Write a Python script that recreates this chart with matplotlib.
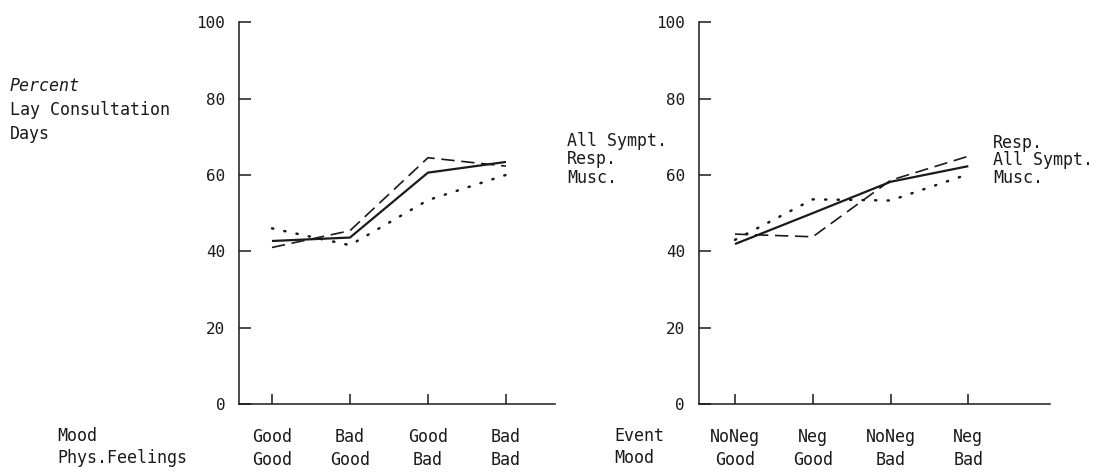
import matplotlib
matplotlib.use("Agg")
import matplotlib.pyplot as plt

# left panel: Mood x Phys.Feelings
left_mood = ["Good", "Bad", "Good", "Bad"]
left_phys = ["Good", "Good", "Bad", "Bad"]
left_all = [42.7, 43.6, 60.6, 63.4]
left_resp = [41.0, 45.4, 64.5, 62.3]
left_musc = [46.0, 41.6, 53.4, 60.0]

# right panel: Event x Mood
right_event = ["NoNeg", "Neg", "NoNeg", "Neg"]
right_mood = ["Good", "Good", "Bad", "Bad"]
right_all = [41.9, 50.0, 58.2, 62.3]
right_resp = [44.5, 43.8, 58.6, 64.9]
right_musc = [43.0, 53.6, 53.3, 60.2]

yticks = [0, 20, 40, 60, 80, 100]

plt.rcParams["font.family"] = "DejaVu Sans Mono"
ink = "#1a1a1a"
fs = 12

fig = plt.figure(figsize=(10.98, 4.72), dpi=100)
ax1 = fig.add_axes([0.2177, 0.144, 0.2878, 0.809])
ax2 = fig.add_axes([0.6366, 0.144, 0.3197, 0.809])


def panel(ax, allv, resp, musc, top, bottom, xlim):
    x = range(len(allv))
    ax.plot(x, allv, color=ink, lw=1.6, solid_capstyle="butt")
    ax.plot(x, resp, color=ink, lw=1.2, linestyle=(0, (8, 4)))
    ax.plot(x, musc, color=ink, lw=1.8, linestyle=(0, (0.5, 4.5)),
            dash_capstyle="round")
    ax.set_xlim(*xlim)
    ax.set_ylim(0, 100)
    ax.set_yticks(yticks)
    ax.set_xticks(list(x))
    ax.set_xticklabels([a + "\n" + b for a, b in zip(top, bottom)],
                       linespacing=1.35)
    for s in ["top", "right"]:
        ax.spines[s].set_visible(False)
    for s in ["left", "bottom"]:
        ax.spines[s].set_color(ink)
        ax.spines[s].set_linewidth(1.1)
    ax.tick_params(axis="y", direction="in", length=8.5, width=1.1,
                   pad=10, labelsize=fs - 0.5, colors=ink)
    ax.tick_params(axis="x", direction="in", length=7, width=1.1,
                   pad=17, labelsize=fs, colors=ink)


panel(ax1, left_all, left_resp, left_musc, left_mood, left_phys, (-0.423, 3.63))
panel(ax2, right_all, right_resp, right_musc, right_event, right_mood, (-0.463, 4.05))

# y label block
fig.text(10 / 1098, 1 - 86 / 472, "Percent", style="italic", fontsize=fs,
         va="center", color=ink)
fig.text(10 / 1098, 1 - 110 / 472, "Lay Consultation", fontsize=fs,
         va="center", color=ink)
fig.text(10 / 1098, 1 - 134 / 472, "Days", fontsize=fs, va="center", color=ink)

# row headers under the axes
fig.text(57 / 1098, 1 - 436 / 472, "Mood", fontsize=fs, va="center", color=ink)
fig.text(57 / 1098, 1 - 458 / 472, "Phys.Feelings", fontsize=fs, va="center", color=ink)
fig.text(614 / 1098, 1 - 436 / 472, "Event", fontsize=fs, va="center", color=ink)
fig.text(614 / 1098, 1 - 458 / 472, "Mood", fontsize=fs, va="center", color=ink)

# series names at line ends
for name, yy in [("All Sympt.", 141), ("Resp.", 159), ("Musc.", 178)]:
    fig.text(567 / 1098, 1 - yy / 472, name, fontsize=fs, va="center", color=ink)
for name, yy in [("Resp.", 143), ("All Sympt.", 160), ("Musc.", 178)]:
    fig.text(993 / 1098, 1 - yy / 472, name, fontsize=fs, va="center", color=ink)

fig.savefig("out.png", dpi=100, facecolor="white")
